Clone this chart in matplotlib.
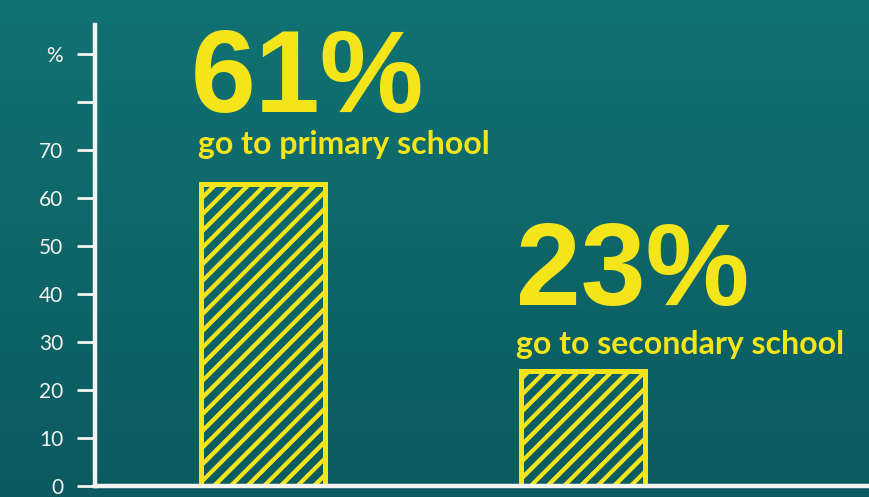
import numpy as np
import matplotlib
matplotlib.use("Agg")
import matplotlib.pyplot as plt
from matplotlib import font_manager

# ---- data ----
categories = ["go to primary school", "go to secondary school"]
share_labels = ["61%", "23%"]
bar_heights = [63, 24]          # bar heights as drawn on the chart (%)
ytick_values = [0, 10, 20, 30, 40, 50, 60, 70, 80, 90]
ytick_labels = ["0", "10", "20", "30", "40", "50", "60", "70", "", "%"]

# ---- style ----
YELLOW = "#F4E51B"
YELLOW2 = "#B9C43C"
WHITE = "#F4F4F0"
TOP = np.array([0x11, 0x72, 0x72]) / 255
BOT = np.array([0x0B, 0x5A, 0x60]) / 255

avail = {f.name for f in font_manager.fontManager.ttflist}
big_family = [f for f in ["Liberation Sans Narrow", "DejaVu Sans Condensed", "Liberation Sans"] if f in avail] or ["DejaVu Sans"]
plt.rcParams["font.family"] = ["Lato", "DejaVu Sans"]
plt.rcParams["hatch.linewidth"] = 3.0
plt.rcParams["hatch.color"] = YELLOW

W, H = 869, 497
fig = plt.figure(figsize=(W / 100, H / 100), dpi=100)

# background gradient
bg = fig.add_axes([0, 0, 1, 1], zorder=-5)
t = np.linspace(0, 1, 256)[:, None, None]
grad = TOP * (1 - t) + BOT * t
grad = np.repeat(grad, 4, axis=1)
bg.imshow(grad, aspect="auto", extent=[0, 1, 0, 1], origin="upper")
bg.axis("off")

ax = fig.add_axes([95 / W, 11 / H, 774 / W, 460.8 / H])
ax.patch.set_alpha(0)
x = np.arange(len(categories))
width = 0.39
ax.set_xlim(-0.525, 1.894)
ax.set_ylim(0, 96)

# hatch fill and outline
ax.bar(x, bar_heights, width=width, facecolor="none", edgecolor=YELLOW2,
       hatch="/", linewidth=0, alpha=0.8)
ax.bar(x, bar_heights, width=width, facecolor="none", edgecolor=YELLOW,
       hatch="//", linewidth=0)
ax.bar(x, bar_heights, width=width, facecolor="none", edgecolor=YELLOW,
       linewidth=3.6)

# labels (offsets in pixels from bar top-left corner)
small_off = [(-3, 30), (-5, 17)]
big_off = [(-10, 72), (-5, 66)]
for i, (cat, lab, h) in enumerate(zip(categories, share_labels, bar_heights)):
    left = x[i] - width / 2
    ax.annotate(cat, (left, h), xytext=(small_off[i][0] * 0.72, small_off[i][1] * 0.72),
                textcoords="offset points", ha="left", va="baseline",
                color=YELLOW, fontsize=23, fontweight="bold", annotation_clip=False)
    ax.annotate(lab, (left, h), xytext=(big_off[i][0] * 0.72, big_off[i][1] * 0.72),
                textcoords="offset points", ha="left", va="baseline",
                color=YELLOW, fontsize=84, fontweight="bold", family=big_family,
                annotation_clip=False)

for s in ["top", "right"]:
    ax.spines[s].set_visible(False)
for s in ["left", "bottom"]:
    ax.spines[s].set_color(WHITE)
    ax.spines[s].set_linewidth(3.2)
ax.set_xticks([])
ax.set_yticks(ytick_values)
ax.set_yticklabels(ytick_labels)
ax.tick_params(axis="y", colors=WHITE, length=13, width=2, pad=10, labelsize=15)

fig.savefig("out.png", dpi=100)
